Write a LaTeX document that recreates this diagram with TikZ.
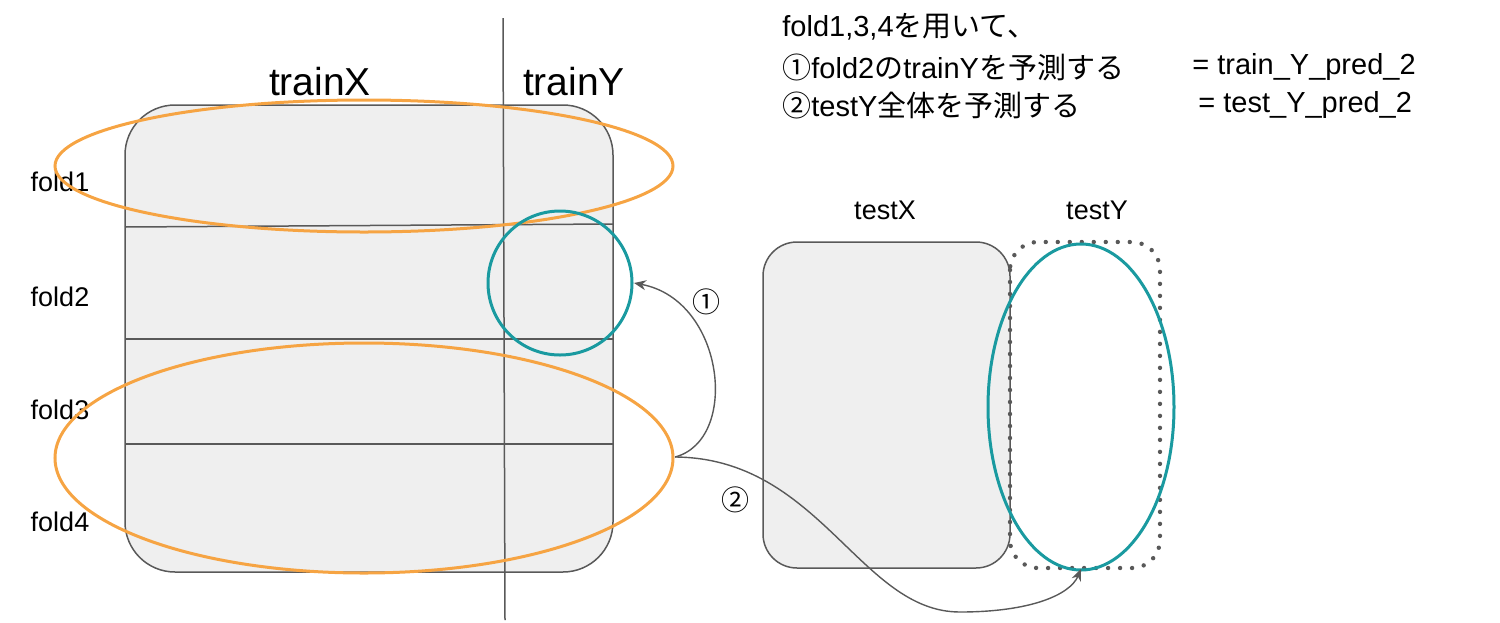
\documentclass[tikz,border=0pt]{standalone}
\usepackage{fontspec}
\setmainfont{Liberation Sans}
\newfontfamily\cjk{Noto Sans CJK JP}
\usetikzlibrary{arrows.meta}
\definecolor{org}{HTML}{F6A443}
\definecolor{teal2}{HTML}{1A9AA0}
\definecolor{gry}{HTML}{595959}
\definecolor{boxfill}{HTML}{EFEFEF}
\newcommand{\J}[1]{{\cjk #1}}
\tikzset{
  box/.style={draw=gry,line width=0.75pt,fill=boxfill},
  sep/.style={draw=gry,line width=0.75pt},
  oring/.style={draw=org,line width=1.5pt},
  tring/.style={draw=teal2,line width=1.5pt},
  conn/.style={draw=gry,line width=0.7pt,-{Stealth[length=6pt,width=5pt]}},
  lbl/.style={inner sep=0pt,font=\fontsize{13.5}{15}\selectfont},
  big/.style={inner sep=0pt,font=\fontsize{19.5}{22}\selectfont},
  jp/.style={inner sep=0pt,anchor=west,font=\fontsize{14.5}{17}\selectfont}
}
\begin{document}
\begin{tikzpicture}[x=0.5pt,y=-0.5pt]
\useasboundingbox (0,0) rectangle (1500,622);
\draw[box,rounded corners=25pt] (125,105) rectangle (613,572);
\draw[sep] (125,227) -- (613,224);
\draw[sep] (125,339) -- (613,339);
\draw[sep] (125,444) -- (613,444);
\draw[sep] (503,18) -- (505,620);
\node[big] (tx) at (320,82) {trainX};
\node[big] (ty) at (574,82) {trainY};
\node[lbl] (f1) at (60,182) {fold1};
\node[lbl] (f2) at (60,297) {fold2};
\node[lbl] (f3) at (60,410) {fold3};
\node[lbl] (f4) at (60,522) {fold4};
\draw[oring] (364,166) ellipse [x radius=309,y radius=66];
\draw[oring] (364,458) ellipse [x radius=309,y radius=115];
\coordinate (e2r) at (675,457);
\draw[tring] (560,283) circle [radius=72];
\coordinate (c1) at (634,283);
\node[lbl] (sx) at (885,210) {testX};
\node[lbl] (sy) at (1097,210) {testY};
\draw[box,rounded corners=17pt] (763,242) rectangle (1010,568);
\draw[draw=gry,line width=2.2pt,line cap=round,dash pattern=on 0pt off 6pt,rounded corners=14pt] (1010,242) rectangle (1160,568);
\draw[tring] (1081,407) ellipse [x radius=93,y radius=163];
\coordinate (c2) at (1081,569);
\draw[conn] (e2r) .. controls (740,440) and (725,300) .. (c1);
\draw[conn] (e2r) .. controls (820,458) and (860,612) .. (960,612) .. controls (1030,612) and (1070,595) .. (c2);
\node[inner sep=0pt,font=\cjk\fontsize{14}{15}\selectfont] (n1) at (706,302) {①};
\node[inner sep=0pt,font=\cjk\fontsize{14}{15}\selectfont] (n2) at (735,500) {②};
\node[jp] (t1) at (782,27) {fold1,3,4\J{を用いて、}};
\node[jp] (t2) at (782,67) {\J{①}fold2\J{の}trainY\J{を予測する}};
\node[jp] (t3) at (782,105) {\J{②}testY\J{全体を予測する}};
\node[jp] (r2) at (1192,67) {= train\_Y\_pred\_2};
\node[jp] (r3) at (1198,105) {= test\_Y\_pred\_2};
\end{tikzpicture}
\end{document}
